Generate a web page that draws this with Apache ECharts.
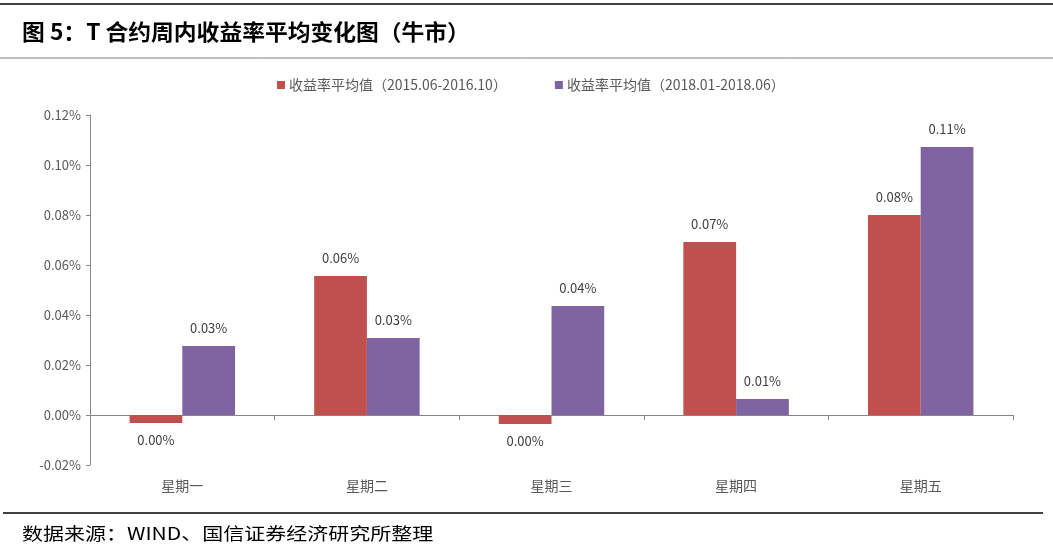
<!DOCTYPE html>
<html>
<head>
<meta charset="utf-8">
<script src="https://cdn.jsdelivr.net/npm/echarts@6/dist/echarts.min.js"></script>
<style>
  html, body { margin: 0; padding: 0; background: #fff; }
  #main { width: 1053px; height: 549px; }
</style>
</head>
<body>
<div id="main"></div>
<script>
// 数据（单位：%）
var categories = ['星期一', '星期二', '星期三', '星期四', '星期五'];
var seriesNames = ['收益率平均值（2015.06-2016.10）', '收益率平均值（2018.01-2018.06）'];
var bull1 = [-0.0032, 0.0556, -0.0036, 0.0692, 0.0800];
var bull2 = [0.0276, 0.0308, 0.0436, 0.0064, 0.1072];
var yTicks = { min: -0.02, max: 0.12, interval: 0.02 };

var fontCN = '"Noto Sans CJK SC", "Noto Sans", sans-serif';

function fmt(v) {
  var s = Number(v).toFixed(2);
  if (s === '-0.00') s = '0.00';
  return s + '%';
}

// 负值标签放在柱子下方
function toItems(arr) {
  return arr.map(function (v) {
    return { value: v, label: { position: v < 0 ? 'bottom' : 'top' } };
  });
}

var chart = echarts.init(document.getElementById('main'));

var option = {
  backgroundColor: '#fff',
  animation: false,
  textStyle: { fontFamily: fontCN },
  graphic: [
    // 顶部黑线
    { type: 'line', shape: { x1: 0, y1: 4, x2: 1053, y2: 4 }, style: { stroke: '#000', lineWidth: 1.5 } },
    // 标题
    { type: 'text', x: 22, y: 21, scaleX: 1.035, style: { text: '图 5：T 合约周内收益率平均变化图（牛市）', font: 'bold 22px ' + fontCN, fill: '#000' } },
    // 标题下灰线
    { type: 'line', shape: { x1: 0, y1: 58, x2: 1053, y2: 58 }, style: { stroke: '#808080', lineWidth: 1 } },
    // 底部黑线
    { type: 'line', shape: { x1: 3, y1: 513, x2: 1043, y2: 513 }, style: { stroke: '#000', lineWidth: 1.5 } },
    // 数据来源
    { type: 'text', x: 22, y: 525, scaleX: 1.2, style: { text: '数据来源：WIND、国信证券经济研究所整理', font: '17.5px ' + fontCN, fill: '#000' } }
  ],
  legend: {
    left: 272,
    top: 73,
    itemWidth: 8,
    itemHeight: 8,
    itemGap: 48,
    icon: 'rect',
    textStyle: { fontSize: 14, color: '#595959', padding: [0, 0, 0, -1] },
    data: seriesNames
  },
  grid: { left: 90, right: 40, top: 115, bottom: 84, containLabel: false },
  xAxis: {
    type: 'category',
    data: categories,
    axisLine: { onZero: true, lineStyle: { color: '#868686', width: 1 } },
    axisTick: { show: true, length: 5, lineStyle: { color: '#868686' } },
    axisLabel: { margin: 14, fontSize: 14, color: '#595959' },
    splitLine: { show: false }
  },
  yAxis: {
    type: 'value',
    min: yTicks.min,
    max: yTicks.max,
    interval: yTicks.interval,
    axisLine: { show: true, lineStyle: { color: '#868686', width: 1 } },
    axisTick: { show: true, length: 4, lineStyle: { color: '#868686' } },
    axisLabel: { fontSize: 13, color: '#595959', margin: 9, formatter: fmt },
    splitLine: { show: false }
  },
  series: [
    {
      name: seriesNames[0],
      type: 'bar',
      data: toItems(bull1),
      itemStyle: { color: '#C0504D' },
      barGap: '0%',
      barCategoryGap: '42.86%',
      label: { show: true, distance: 11, fontSize: 13, color: '#404040', formatter: function (p) { return fmt(p.value); } }
    },
    {
      name: seriesNames[1],
      type: 'bar',
      data: toItems(bull2),
      itemStyle: { color: '#8064A2' },
      barGap: '0%',
      barCategoryGap: '42.86%',
      label: { show: true, distance: 11, fontSize: 13, color: '#404040', formatter: function (p) { return fmt(p.value); } }
    }
  ]
};

chart.setOption(option);
</script>
</body>
</html>
